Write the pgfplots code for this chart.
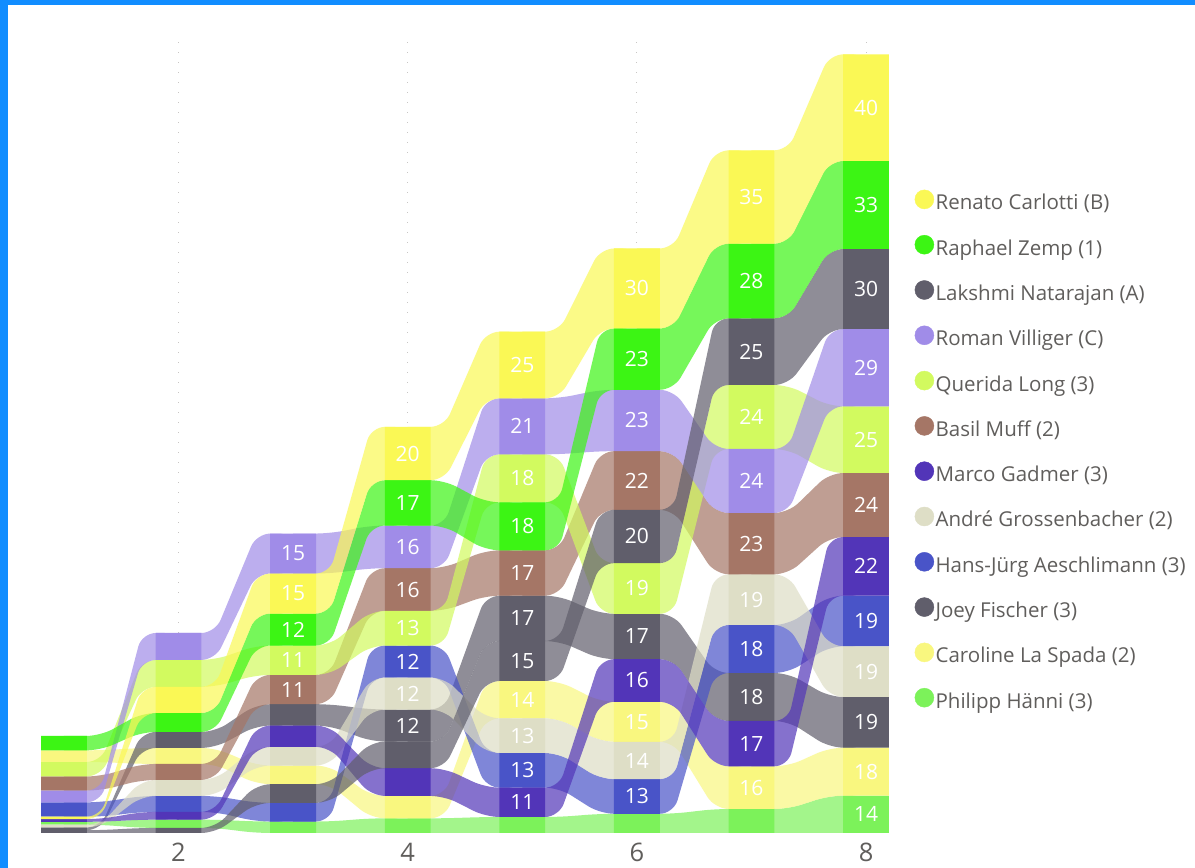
\documentclass[border=0pt]{standalone}
\usepackage{fontspec}
\setmainfont{Open Sans}
\usepackage{pgfplots}
\pgfplotsset{compat=1.18}

\definecolor{cRen}{HTML}{FAF855}
\definecolor{cRaph}{HTML}{3CF514}
\definecolor{cLak}{HTML}{605E6B}
\definecolor{cRom}{HTML}{A08CE8}
\definecolor{cQue}{HTML}{D2FA5F}
\definecolor{cBas}{HTML}{A57666}
\definecolor{cMar}{HTML}{5235B8}
\definecolor{cAnd}{HTML}{DEDEC6}
\definecolor{cHan}{HTML}{4954C8}
\definecolor{cJoe}{HTML}{605E6B}
\definecolor{cCar}{HTML}{F9F77F}
\definecolor{cPhi}{HTML}{7CF25A}
\definecolor{pbblue}{HTML}{118DFF}
\definecolor{txtgray}{HTML}{605E5C}
\definecolor{gridgray}{HTML}{C8C6C4}

\newcommand\labfont{\fontsize{21}{21}\selectfont}
\newcommand\tickfont{\fontsize{25.5}{26}\selectfont}
\newcommand\legfont{\fontsize{20.5}{21}\selectfont}

% stacked segment of each player in each round: bottom/top (cumulative score units)
\def\dRen{{5.2/6.1}{45.0/54.8}{82.3/97.3}{132.3/152.3}{163/188}{189.2/219.2}{221/256}{252/292}}
\def\dRaph{{31.0/36.4}{37.9/45.0}{70.3/82.3}{115.3/132.3}{106/124}{166.2/189.2}{193/221}{219/252}}
\def\dLak{{0/1.05}{0/1.9}{11.3/18.3}{24.3/34.3}{57/72}{101.2/121.2}{168/193}{189/219}}
\def\dRom{{11.5/15.9}{64.9/75.0}{97.3/112.3}{99.3/115.3}{142/163}{143.2/166.2}{120/144}{160/189}}
\def\dQue{{21.2/26.6}{54.8/64.9}{59.3/70.3}{70.3/83.3}{124/142}{82.2/101.2}{144/168}{135/160}}
\def\dBas{{15.9/21.2}{19.9/25.9}{48.3/59.3}{83.3/99.3}{89/106}{121.2/143.2}{97/120}{111/135}}
\def\dMar{{4.2/5.2}{5.0/7.9}{32.3/40.3}{13.9/24.3}{6/17}{49.2/65.2}{25/42}{89/111}}
\def\dAnd{{2.1/3.1}{13.9/19.9}{25.3/32.3}{46.3/58.3}{30/43}{20.2/34.2}{78/97}{51/70}}
\def\dHan{{6.1/11.5}{7.9/13.9}{4.3/11.3}{58.3/70.3}{17/30}{7.2/20.2}{60/78}{70/89}}
\def\dJoe{{1.05/2.1}{31.9/37.9}{40.3/48.3}{34.3/46.3}{72/89}{65.2/82.2}{42/60}{32/51}}
\def\dCar{{26.6/31.0}{25.9/31.9}{18.3/25.3}{5.5/13.9}{43/57}{34.2/49.2}{9/25}{14/32}}
\def\dPhi{{3.1/4.2}{1.9/5.0}{0/4.3}{0/5.5}{0/6}{0/7.2}{0/9}{0/14}}

\def\rb#1#2#3/#4;#5/#6;{(#1,#3) (#1.32,#3) (#1.68,#5) (#2,#5) (#2,#6) (#1.68,#6) (#1.32,#4) (#1,#4) (nan,nan) }
\def\ribs#1#2#3#4#5#6#7#8{\rb{1}{2}#1;#2;\rb{2}{3}#2;#3;\rb{3}{4}#3;#4;\rb{4}{5}#4;#5;\rb{5}{6}#5;#6;\rb{6}{7}#6;#7;\rb{7}{8}#7;#8;}
\def\bx#1#2#3/#4;{(#1.8,#3) (#2.2,#3) (#2.2,#4) (#1.8,#4) (nan,nan) }
\def\bars#1#2#3#4#5#6#7#8{\bx{0}{1}#1;\bx{1}{2}#2;\bx{2}{3}#3;\bx{3}{4}#4;\bx{4}{5}#5;\bx{5}{6}#6;\bx{6}{7}#7;\bx{7}{8}#8;}
\newcommand\drawrib[2]{\edef\tmp{\noexpand\addplot[rib=#1] coordinates {\expandafter\ribs#2};}\tmp}
\newcommand\drawbar[2]{\edef\tmp{\noexpand\addplot[seg=#1] coordinates {\expandafter\bars#2};}\tmp}

\pgfplotsset{
  rib/.style={forget plot, draw=none, fill=#1, fill opacity=0.7, rounded corners=14pt, mark=none, unbounded coords=jump},
  seg/.style={forget plot, draw=none, fill=#1, mark=none, unbounded coords=jump},
  dot/.style={legend image code/.code={\fill[#1] (9.5pt,5.5pt) circle (9.5pt);}},
}

\begin{document}
\begin{tikzpicture}[x=1pt,y=1pt]
\useasboundingbox (0,0) rectangle (1195,868);
\fill[white] (0,0) rectangle (1195,868);
\fill[pbblue] (0,0) rectangle (8,868);
\fill[pbblue] (0,863) rectangle (1195,868);
\begin{axis}[
  at={(41pt,35pt)}, anchor=south west, scale only axis,
  width=848pt, height=800pt,
  xmin=0.8, xmax=8.2, ymin=0, ymax=300,
  axis line style={draw=none},
  xtick={2,4,6,8}, xticklabels={2,4,6,8}, ytick=\empty,
  major tick length=0pt,
  xmajorgrids=true,
  major grid style={draw=gridgray, line width=1pt, dash pattern=on 1pt off 9pt},
  xticklabel style={font=\tickfont, text=txtgray, anchor=base, yshift=-28pt},
  legend style={draw=none, fill=none, at={(1.03007,0.8044)}, anchor=north west,
    font=\legfont, text=txtgray, row sep=20.1pt, inner sep=0pt,
    nodes={inner xsep=1.5pt, inner ysep=0pt, text height=15pt, text depth=5pt},
    column sep=0pt},
  legend cell align=left,
]
\drawrib{cPhi}{\dPhi}
\drawrib{cCar}{\dCar}
\drawrib{cJoe}{\dJoe}
\drawrib{cHan}{\dHan}
\drawrib{cAnd}{\dAnd}
\drawrib{cMar}{\dMar}
\drawrib{cBas}{\dBas}
\drawrib{cQue}{\dQue}
\drawrib{cRom}{\dRom}
\drawrib{cLak}{\dLak}
\drawrib{cRaph}{\dRaph}
\drawrib{cRen}{\dRen}

\drawbar{cPhi}{\dPhi}
\drawbar{cCar}{\dCar}
\drawbar{cJoe}{\dJoe}
\drawbar{cHan}{\dHan}
\drawbar{cAnd}{\dAnd}
\drawbar{cMar}{\dMar}
\drawbar{cBas}{\dBas}
\drawbar{cQue}{\dQue}
\drawbar{cRom}{\dRom}
\drawbar{cLak}{\dLak}
\drawbar{cRaph}{\dRaph}
\drawbar{cRen}{\dRen}

\addplot[forget plot, draw=none, mark=none, nodes near coords, point meta=explicit symbolic,
  nodes near coords align=center,
  every node near coord/.append style={anchor=center, font=\labfont, text=white, inner sep=0pt}]
  table[meta=lab] {
x y lab
3 53.8 11
3 64.8 11
3 76.3 12
3 89.8 15
3 104.8 15
4 40.3 12
4 52.3 12
4 64.3 12
4 76.8 13
4 91.3 16
4 107.3 16
4 123.8 17
4 142.3 20
5 11.5 11
5 23.5 13
5 36.5 13
5 50 14
5 64.5 15
5 80.5 17
5 97.5 17
5 115 18
5 133 18
5 152.5 21
5 175.5 25
6 13.7 13
6 27.2 14
6 41.7 15
6 57.2 16
6 73.7 17
6 91.7 19
6 111.2 20
6 132.2 22
6 154.7 23
6 177.7 23
6 204.2 30
7 17 16
7 33.5 17
7 51 18
7 69 18
7 87.5 19
7 108.5 23
7 132 24
7 156 24
7 180.5 25
7 207 28
7 238.5 35
8 7 14
8 23 18
8 41.5 19
8 60.5 19
8 79.5 19
8 100 22
8 123 24
8 147.5 25
8 174.5 29
8 204 30
8 235.5 33
8 272 40
};

\addlegendimage{dot=cRen}
\addlegendentry{Renato Carlotti (B)}
\addlegendimage{dot=cRaph}
\addlegendentry{Raphael Zemp (1)}
\addlegendimage{dot=cLak}
\addlegendentry{Lakshmi Natarajan (A)}
\addlegendimage{dot=cRom}
\addlegendentry{Roman Villiger (C)}
\addlegendimage{dot=cQue}
\addlegendentry{Querida Long (3)}
\addlegendimage{dot=cBas}
\addlegendentry{Basil Muff (2)}
\addlegendimage{dot=cMar}
\addlegendentry{Marco Gadmer (3)}
\addlegendimage{dot=cAnd}
\addlegendentry{André Grossenbacher (2)}
\addlegendimage{dot=cHan}
\addlegendentry{Hans-Jürg Aeschlimann (3)}
\addlegendimage{dot=cJoe}
\addlegendentry{Joey Fischer (3)}
\addlegendimage{dot=cCar}
\addlegendentry{Caroline La Spada (2)}
\addlegendimage{dot=cPhi}
\addlegendentry{Philipp Hänni (3)}
\end{axis}
\end{tikzpicture}
\end{document}
